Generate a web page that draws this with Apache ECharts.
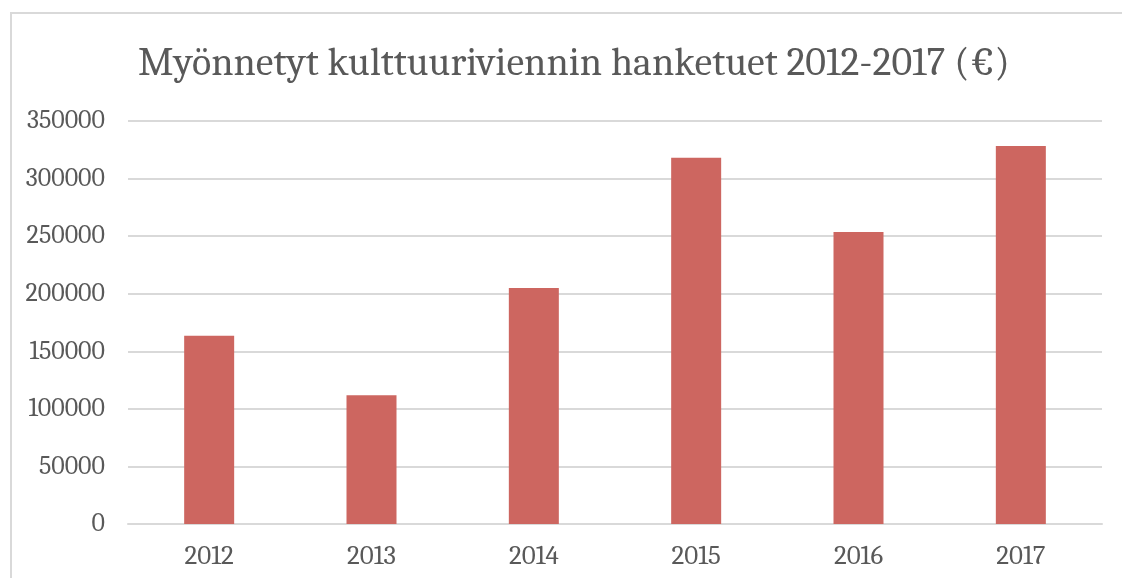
<!DOCTYPE html>
<html lang="fi">
<head>
    <meta charset="UTF-8">
    <title>Myönnetyt kulttuuriviennin hanketuet</title>
    <script src="https://cdn.jsdelivr.net/npm/echarts@6/dist/echarts.min.js"></script>
    <style>
        html, body { margin: 0; padding: 0; background: #fff; }
        #frame {
            position: absolute; left: 10px; top: 12px;
            width: 1120px; height: 580px;
            border-left: 2px solid #d9d9d9; border-top: 2px solid #d9d9d9;
        }
        #main { position: absolute; left: 0; top: 0; width: 1122px; height: 578px; }
    </style>
</head>
<body>
<div id="frame"></div>
<div id="main"></div>
<script>
    // vuodet ja myönnetyt summat (€)
    var years = ['2012', '2013', '2014', '2015', '2016', '2017'];
    var amounts = [163500, 111800, 205000, 318000, 253600, 328300];

    var serif = 'Cambria, "DejaVu Serif", "Liberation Serif", serif';
    var chart = echarts.init(document.getElementById('main'));

    chart.setOption({
        animation: false,
        title: {
            text: 'Myönnetyt kulttuuriviennin hanketuet 2012-2017 (€)',
            left: 133,
            top: 39,
            textStyle: { fontFamily: serif, fontSize: 40, fontWeight: 'normal', color: '#595959' }
        },
        grid: { left: 128, right: 20, top: 121, bottom: 54, containLabel: false },
        xAxis: {
            type: 'category',
            data: years,
            axisLine: { lineStyle: { color: '#d9d9d9', width: 2 } },
            axisTick: { show: false },
            axisLabel: { fontFamily: serif, fontSize: 27, color: '#595959', margin: 19 }
        },
        yAxis: {
            type: 'value',
            min: 0,
            max: 350000,
            interval: 50000,
            axisLine: { show: false },
            axisTick: { show: false },
            axisLabel: {
                fontFamily: serif, fontSize: 26, color: '#595959', margin: 23,
                formatter: function (v) { return String(v); }
            },
            splitLine: { lineStyle: { color: '#d9d9d9', width: 2 } }
        },
        series: [{
            type: 'bar',
            data: amounts,
            barWidth: 50,
            itemStyle: { color: '#cd6660' }
        }]
    });
</script>
</body>
</html>
